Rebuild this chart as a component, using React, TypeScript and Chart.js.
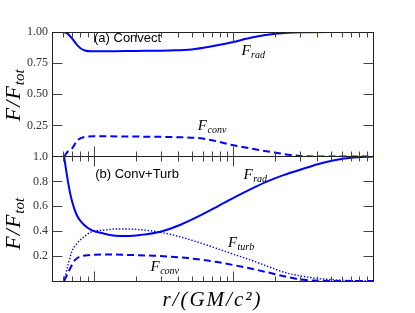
import React, { useEffect, useRef } from 'react';
import { Chart, registerables } from 'chart.js';

Chart.register(...registerables);

// ---------- data (r in GM/c^2, flux fractions) ----------
// Panel (a) Convect
const rTopRad = [6.1, 6.5, 7.0, 7.5, 8.0, 8.6, 9.5, 12, 20, 35, 50, 70, 100, 135, 200, 300, 500, 1000];
const topRad = [1.0, 0.985, 0.945, 0.9, 0.87, 0.852, 0.845, 0.845, 0.848, 0.852, 0.86, 0.885, 0.92, 0.955, 0.985, 0.998, 1.0, 1.0];
const rTopConv = [6.1, 6.5, 7.0, 7.6, 8.4, 10, 20, 40, 58, 68.5, 100, 140, 200, 257, 300, 400, 1000];
const topConv = [0, 0.04, 0.068, 0.13, 0.155, 0.162, 0.16, 0.155, 0.146, 0.133, 0.09, 0.06, 0.03, 0.012, 0.004, 0, 0];

// Panel (b) Conv+Turb
const rBotRad = [6.1, 6.55, 6.93, 7.53, 8.4, 9.6, 11.7, 14.2, 17.2, 21.5, 29.9, 41.7, 58, 76.5, 100, 133, 175, 231, 304, 401, 528, 696, 1000];
const botRad = [1.0, 0.78, 0.648, 0.528, 0.456, 0.408, 0.382, 0.364, 0.362, 0.37, 0.396, 0.452, 0.527, 0.598, 0.668, 0.738, 0.8, 0.852, 0.895, 0.938, 0.97, 0.99, 1.0];
const rBotTurb = [6.1, 6.55, 6.93, 7.53, 8.4, 9.6, 11.7, 14.6, 19.2, 26.8, 37.3, 52, 76.5, 100, 133, 175, 231, 304, 401, 528, 700, 1000];
const botTurb = [0, 0.14, 0.235, 0.3, 0.35, 0.395, 0.408, 0.418, 0.416, 0.4, 0.368, 0.322, 0.26, 0.215, 0.168, 0.118, 0.07, 0.04, 0.02, 0.01, 0.003, 0];
const rBotConv = [6.1, 6.74, 7.3, 8.16, 9.37, 13.0, 19.2, 26.8, 41.7, 58, 76.5, 100, 133, 175, 231, 304, 401, 528, 1000];
const botConv = [0, 0.1, 0.168, 0.2, 0.208, 0.213, 0.208, 0.203, 0.19, 0.172, 0.152, 0.128, 0.1, 0.07, 0.038, 0.012, 0.003, 0, 0];

// axis ticks
const xMin = 5;
const xMax = 1000;
const xTickValues = [6, 7, 8, 9, 10, 20, 30, 40, 50, 60, 70, 80, 90, 100, 200, 300, 400, 500, 600, 700, 800, 900];
const xMajorTickValues = [10, 100];
const topYStep = 0.25;
const botYStep = 0.2;

type Lbl = { main: string; sub?: string; r: number; v: number; sans?: boolean };

const topLabels: Lbl[] = [
  { main: '(a) Convect', r: 10, v: 0.92, sans: true },
  { main: 'F', sub: 'rad', r: 114, v: 0.815 },
  { main: 'F', sub: 'conv', r: 55.5, v: 0.213 },
];
const botLabels: Lbl[] = [
  { main: '(b) Conv+Turb', r: 10.2, v: 0.824, sans: true },
  { main: 'F', sub: 'rad', r: 118, v: 0.82 },
  { main: 'F', sub: 'turb', r: 91.2, v: 0.274 },
  { main: 'F', sub: 'conv', r: 25.4, v: 0.08 },
];

const BLUE = '#0000ff';
const SERIF = '"Liberation Serif", "Times New Roman", serif';
const SANS = '"Liberation Sans", Arial, sans-serif';

const pts = (xs: number[], ys: number[]) => xs.map((x, i) => ({ x, y: ys[i] }));

function decorPlugin(labels: Lbl[], yTitleShift: number, drawXTitle: boolean) {
  return {
    id: 'decor',
    afterDraw(chart: any) {
      const ctx = chart.ctx as CanvasRenderingContext2D;
      const { left, right, top, bottom } = chart.chartArea;
      const xs = chart.scales.x;
      const ys = chart.scales.y;
      ctx.save();
      ctx.strokeStyle = '#222';
      ctx.lineWidth = 1;
      const L = Math.floor(left) + 0.5;
      const R = Math.floor(right) + 0.5;
      const T = Math.floor(top) + 0.5;
      const B = Math.floor(bottom) + 0.5;
      ctx.strokeRect(L, T, R - L, B - T);
      const line = (x1: number, y1: number, x2: number, y2: number) => {
        ctx.beginPath();
        ctx.moveTo(x1, y1);
        ctx.lineTo(x2, y2);
        ctx.stroke();
      };
      ctx.strokeStyle = '#444';
      for (const v of xTickValues) {
        const px = Math.round(xs.getPixelForValue(v)) + 0.5;
        const len = xMajorTickValues.includes(v) ? 10 : 5;
        line(px, T, px, T + len);
        line(px, B, px, B - len);
      }
      for (const t of ys.ticks) {
        if (t.value <= ys.min + 1e-9 || t.value >= ys.max - 1e-9) continue;
        const py = Math.round(ys.getPixelForValue(t.value)) + 0.5;
        line(L, py, L + 10, py);
        line(R, py, R - 10, py);
      }
      // in-plot labels
      ctx.fillStyle = '#000';
      ctx.textAlign = 'left';
      ctx.textBaseline = 'alphabetic';
      for (const l of labels) {
        const x = xs.getPixelForValue(l.r);
        const y = ys.getPixelForValue(l.v);
        if (l.sans) {
          ctx.font = `13px ${SANS}`;
          ctx.fillText(l.main, x, y);
        } else {
          ctx.font = `italic 15px ${SERIF}`;
          ctx.fillText(l.main, x, y);
          const w = ctx.measureText(l.main).width;
          ctx.font = `italic 10px ${SERIF}`;
          ctx.fillText(l.sub || '', x + w + 0.5, y + 3);
        }
      }
      // y title  F/F_tot
      ctx.save();
      const cy = (top + bottom) / 2 + yTitleShift;
      ctx.translate(20, cy);
      ctx.rotate(-Math.PI / 2);
      ctx.font = `italic 22px ${SERIF}`;
      (ctx as any).letterSpacing = '1px';
      const mainT = 'F/F';
      const wMain = ctx.measureText(mainT).width;
      ctx.font = `italic 15px ${SERIF}`;
      (ctx as any).letterSpacing = '0px';
      const wSub = ctx.measureText('tot').width;
      const x0 = -(wMain + wSub) / 2;
      ctx.font = `italic 22px ${SERIF}`;
      (ctx as any).letterSpacing = '1px';
      ctx.fillText(mainT, x0, 0);
      ctx.font = `italic 15px ${SERIF}`;
      (ctx as any).letterSpacing = '0px';
      ctx.fillText('tot', x0 + wMain, 3.5);
      ctx.restore();
      if (drawXTitle) {
        ctx.font = `italic 21px ${SERIF}`;
        (ctx as any).letterSpacing = '2px';
        ctx.textAlign = 'center';
        ctx.fillText('r/(GM/c²)', (left + right) / 2, bottom + 25);
        (ctx as any).letterSpacing = '0px';
      }
      ctx.restore();
    },
  };
}

function makeChart(
  canvas: HTMLCanvasElement,
  datasets: any[],
  padding: any,
  step: number,
  digits: number,
  plugin: any
) {
  return new Chart(canvas, {
    type: 'line',
    data: { datasets },
    options: {
      responsive: false,
      animation: false,
      devicePixelRatio: 1,
      events: [],
      layout: { padding },
      plugins: { legend: { display: false }, tooltip: { enabled: false } },
      elements: { point: { radius: 0 } },
      scales: {
        x: { type: 'logarithmic', min: xMin, max: xMax, display: false },
        y: {
          type: 'linear',
          min: 0,
          max: 1,
          afterFit: (s: any) => {
            s.width = 52;
          },
          grid: { display: false, drawTicks: false },
          border: { display: false },
          ticks: {
            stepSize: step,
            padding: 4,
            color: '#333',
            font: { family: SERIF, size: 12 },
            callback: (v: any) => (Math.abs(Number(v)) < 1e-9 ? '' : Number(v).toFixed(digits)),
          },
        },
      },
    } as any,
    plugins: [plugin],
  });
}

const solid = (data: any) => ({ data, borderColor: BLUE, borderWidth: 2, pointRadius: 0, fill: false, cubicInterpolationMode: 'monotone' });
const dashed = (data: any) => ({ ...solid(data), borderDash: [7, 4] });
const dotted = (data: any) => ({ ...solid(data), borderWidth: 1.4, borderDash: [1.4, 1.8] });

export default function App() {
  const topRef = useRef<HTMLCanvasElement>(null);
  const botRef = useRef<HTMLCanvasElement>(null);

  useEffect(() => {
    const c1 = makeChart(
      topRef.current!,
      [solid(pts(rTopRad, topRad)), dashed(pts(rTopConv, topConv))],
      { left: 0, top: 32, right: 42, bottom: 13.5 },
      topYStep,
      2,
      decorPlugin(topLabels, 1, false)
    );
    const c2 = makeChart(
      botRef.current!,
      [solid(pts(rBotRad, botRad)), dotted(pts(rBotTurb, botTurb)), dashed(pts(rBotConv, botConv))],
      { left: 0, top: 16.5, right: 42, bottom: 32 },
      botYStep,
      1,
      decorPlugin(botLabels, 5, true)
    );
    return () => {
      c1.destroy();
      c2.destroy();
    };
  }, []);

  return (
    <div style={{ position: 'absolute', left: 0, top: 0, width: 415, height: 313, background: '#fff' }}>
      <canvas ref={topRef} width={415} height={170} style={{ position: 'absolute', left: 0, top: 0 }} />
      <canvas ref={botRef} width={415} height={173} style={{ position: 'absolute', left: 0, top: 140 }} />
    </div>
  );
}
